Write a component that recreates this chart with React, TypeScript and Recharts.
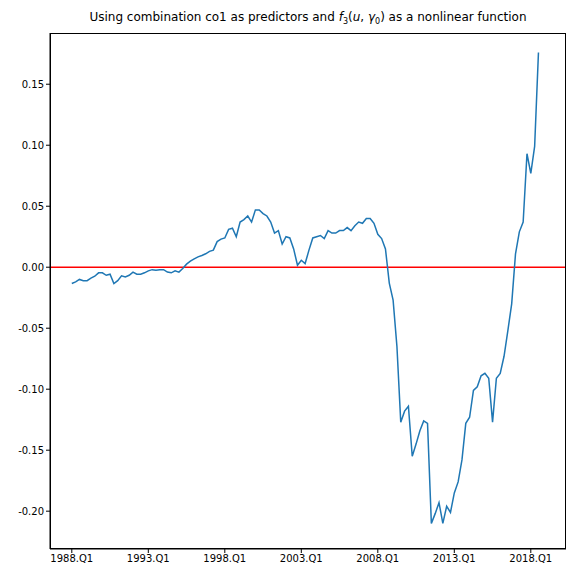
import React from "react";
import { LineChart, Line, XAxis, YAxis, ReferenceLine } from "recharts";

// quarterly values, 1988.Q1 .. 2018.Q4
const values = [
  -0.0134, -0.012, -0.010, -0.011, -0.011, -0.009, -0.0074, -0.0046, -0.0046, -0.0066,
  -0.0057, -0.0134, -0.011, -0.007, -0.008, -0.0066, -0.004, -0.0057, -0.0057, -0.0046,
  -0.003, -0.002, -0.0025, -0.002, -0.002, -0.004, -0.0046, -0.003, -0.004, -0.001,
  0.0025, 0.005, 0.0068, 0.0085, 0.0096, 0.011, 0.013, 0.014, 0.021, 0.023,
  0.024, 0.031, 0.032, 0.025, 0.037, 0.039, 0.042, 0.037, 0.047, 0.047,
  0.044, 0.042, 0.037, 0.028, 0.030, 0.019, 0.025, 0.024, 0.015, 0.0016,
  0.0057, 0.003, 0.014,
  0.024, 0.025, 0.026, 0.0235, 0.030, 0.028, 0.028, 0.030, 0.030, 0.0325,
  0.030, 0.034, 0.037, 0.036, 0.040, 0.040, 0.036, 0.027, 0.0235, 0.015,
  -0.013, -0.027, -0.065, -0.127, -0.118, -0.114, -0.155, -0.145,
  -0.134, -0.126, -0.128, -0.210, -0.202, -0.193, -0.210, -0.196, -0.201, -0.185,
  -0.176, -0.158, -0.128, -0.123, -0.101, -0.098, -0.089, -0.087, -0.091, -0.127,
  -0.091, -0.087, -0.073, -0.052, -0.030, 0.011, 0.029, 0.037, 0.093, 0.077,
  0.099, 0.176,
];
const firstYear = 1988;
const quarters = values.map((_, i) => `${firstYear + Math.floor(i / 4)}.Q${(i % 4) + 1}`);
const xTicks = [0, 20, 40, 60, 80, 100, 120];
const yTicks = [-0.2, -0.15, -0.1, -0.05, 0, 0.05, 0.1, 0.15];

const data = values.map((v, i) => ({ i, v }));
const font = "DejaVu Sans, sans-serif";
const tick = { fontSize: 10, fill: "#000", fontFamily: font };

export default function App() {
  return (
    <div style={{ position: "absolute", left: 0, top: 0, width: 576, height: 576, background: "#fff" }}>
      <div
        style={{
          position: "absolute", top: 10, left: 50, width: 516, textAlign: "center",
          fontFamily: font, fontSize: 12, color: "#000",
        }}
      >
        Using combination co1 as predictors and <i>f</i>
        <sub style={{ fontSize: 8 }}>3</sub>(<i>u</i>, <i>γ</i>
        <sub style={{ fontSize: 8 }}>0</sub>) as a nonlinear function
      </div>
      <LineChart width={576} height={576} data={data} margin={{ top: 33, right: 10, bottom: 0, left: 0 }}>
        <XAxis
          dataKey="i"
          type="number"
          domain={[-5.7, 129.2]}
          ticks={xTicks}
          tickFormatter={(i: number) => quarters[i]}
          tick={tick}
          height={27}
          stroke="#000"
          tickSize={4}
          allowDataOverflow
        />
        <YAxis
          type="number"
          domain={[-0.231, 0.192]}
          ticks={yTicks}
          tickFormatter={(v: number) => v.toFixed(2)}
          tick={tick}
          width={50}
          stroke="#000"
          tickSize={4}
          allowDataOverflow
        />
        <ReferenceLine y={0} stroke="#ff0000" strokeWidth={1.6} />
        <Line dataKey="v" stroke="#1f77b4" strokeWidth={1.5} dot={false} isAnimationActive={false} />
      </LineChart>
      <div
        style={{
          position: "absolute", left: 50, top: 33, width: 516, height: 516,
          boxSizing: "border-box", border: "1px solid #000", pointerEvents: "none",
        }}
      />
    </div>
  );
}
